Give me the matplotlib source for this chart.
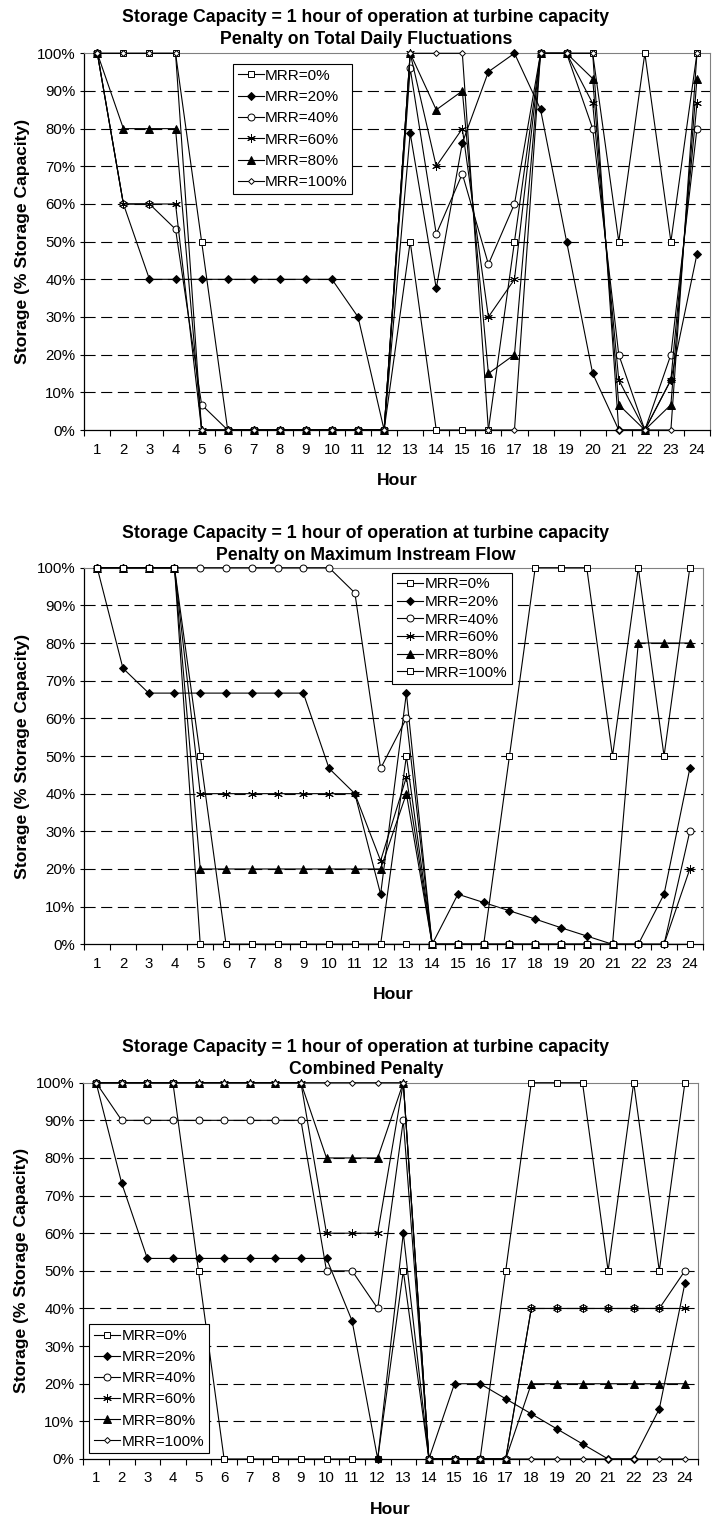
import matplotlib
matplotlib.use("Agg")
import matplotlib.pyplot as plt
import numpy as np

plt.rcParams['font.family'] = ['Liberation Sans', 'DejaVu Sans']
plt.rcParams['lines.scale_dashes'] = False

hours = list(range(1, 25))
labels = ["MRR=0%", "MRR=20%", "MRR=40%", "MRR=60%", "MRR=80%", "MRR=100%"]

# storage (% of capacity) for each minimum release requirement
fluct_0 = [100, 100, 100, 100, 50, 0, 0, 0, 0, 0, 0, 0, 50, 0, 0, 0, 50, 100, 100, 100, 50, 100, 50, 100]
fluct_20 = [100, 60, 40, 40, 40, 40, 40, 40, 40, 40, 30, 0, 78.8, 37.6, 76.2, 95.1, 100, 85.1, 50, 15, 0, 0, 13.3, 46.7]
fluct_40 = [100, 60, 60, 53.3, 6.7, 0, 0, 0, 0, 0, 0, 0, 96, 52, 68, 44, 60, 100, 100, 80, 20, 0, 20, 80]
fluct_60 = [100, 60, 60, 60, 0, 0, 0, 0, 0, 0, 0, 0, 100, 70, 80, 30, 40, 100, 100, 86.7, 13.3, 0, 13.3, 86.7]
fluct_80 = [100, 80, 80, 80, 0, 0, 0, 0, 0, 0, 0, 0, 100, 85, 90, 15, 20, 100, 100, 93.3, 6.7, 0, 6.7, 93.3]
fluct_100 = [100, 100, 100, 100, 0, 0, 0, 0, 0, 0, 0, 0, 100, 100, 100, 0, 0, 100, 100, 100, 0, 0, 0, 100]

inst_0 = [100, 100, 100, 100, 50, 0, 0, 0, 0, 0, 0, 0, 50, 0, 0, 0, 50, 100, 100, 100, 50, 100, 50, 100]
inst_20 = [100, 73.3, 66.7, 66.7, 66.7, 66.7, 66.7, 66.7, 66.7, 46.7, 40, 13.3, 66.7, 0, 13.3, 11.1, 8.9, 6.7, 4.4, 2.2, 0, 0, 13.3, 46.7]
inst_40 = [100, 100, 100, 100, 100, 100, 100, 100, 100, 100, 93.3, 46.7, 60, 0, 0, 0, 0, 0, 0, 0, 0, 0, 0, 30]
inst_60 = [100, 100, 100, 100, 40, 40, 40, 40, 40, 40, 40, 22.2, 44.4, 0, 0, 0, 0, 0, 0, 0, 0, 0, 0, 20]
inst_80 = [100, 100, 100, 100, 20, 20, 20, 20, 20, 20, 20, 20, 40, 0, 0, 0, 0, 0, 0, 0, 0, 80, 80, 80]
inst_100 = [100, 100, 100, 100, 0, 0, 0, 0, 0, 0, 0, 0, 0, 0, 0, 0, 0, 0, 0, 0, 0, 0, 0, 0]

comb_0 = [100, 100, 100, 100, 50, 0, 0, 0, 0, 0, 0, 0, 50, 0, 0, 0, 50, 100, 100, 100, 50, 100, 50, 100]
comb_20 = [100, 73.3, 53.3, 53.3, 53.3, 53.3, 53.3, 53.3, 53.3, 53.3, 36.7, 0, 60, 0, 20, 20, 16, 12, 8, 4, 0, 0, 13.3, 46.7]
comb_40 = [100, 90, 90, 90, 90, 90, 90, 90, 90, 50, 50, 40, 90, 0, 0, 0, 0, 40, 40, 40, 40, 40, 40, 50]
comb_60 = [100, 100, 100, 100, 100, 100, 100, 100, 100, 60, 60, 60, 100, 0, 0, 0, 0, 40, 40, 40, 40, 40, 40, 40]
comb_80 = [100, 100, 100, 100, 100, 100, 100, 100, 100, 80, 80, 80, 100, 0, 0, 0, 0, 20, 20, 20, 20, 20, 20, 20]
comb_100 = [100, 100, 100, 100, 100, 100, 100, 100, 100, 100, 100, 100, 100, 0, 0, 0, 0, 0, 0, 0, 0, 0, 0, 0]

title_top = "Storage Capacity = 1 hour of operation at turbine capacity"
subtitles = ["Penalty on Total Daily Fluctuations", "Penalty on Maximum Instream Flow", "Combined Penalty"]

# marker styles: (marker, size, filled)
sq = ('s', 4.4, False)
dia = ('D', 3.8, True)
circ = ('o', 5.0, False)
star = ((6, 2, 0), 6.2, False)
tri = ('^', 5.2, True)
small_dia = ('D', 3.0, False)

W, H = 718, 1521
fig = plt.figure(figsize=(W / 100, H / 100), dpi=100)


def px_axes(left, right, top, bottom):
    return fig.add_axes([left / W, (H - bottom) / H, (right - left) / W, (bottom - top) / H])


def draw_panel(ax, series, styles, subtitle, title_y, leg_loc, leg_anchor, leg_spacing):
    for y in range(10, 100, 10):
        ax.axhline(y, color='black', lw=0.8, ls=(0, (8, 4)), zorder=1)
    for vals, (mk, ms, filled), lab in zip(series, styles, labels):
        ax.plot(hours, vals, color='black', lw=0.8, marker=mk, ms=ms,
                mfc='black' if filled else 'white', mec='black', mew=0.7,
                label=lab, clip_on=False, zorder=3)
    ax.set_xlim(0.5, 24.5)
    ax.set_ylim(0, 100)
    ax.set_yticks(range(0, 101, 10))
    ax.set_yticklabels([f"{v}%" for v in range(0, 101, 10)], fontsize=10.8)
    ax.set_xticks(np.arange(0.5, 25, 1))
    ax.set_xticklabels([])
    ax.set_xticks(hours, minor=True)
    ax.set_xticklabels([str(h) for h in hours], minor=True, fontsize=10.8)
    ax.tick_params(axis='x', which='major', direction='out', length=4, width=0.8)
    ax.tick_params(axis='x', which='minor', length=0, pad=9)
    ax.tick_params(axis='y', direction='out', length=3, width=0.8, pad=3.5)
    for side in ('top', 'right'):
        ax.spines[side].set_color('#808080')
        ax.spines[side].set_linewidth(0.8)
    for side in ('left', 'bottom'):
        ax.spines[side].set_linewidth(0.9)
    ax.set_xlabel("Hour", fontsize=12.6, fontweight='bold', labelpad=12)
    ax.set_ylabel("Storage (% Storage Capacity)", fontsize=12.6, fontweight='bold', labelpad=5)
    leg = ax.legend(loc=leg_loc, bbox_to_anchor=leg_anchor, borderaxespad=0, fontsize=11,
                    handlelength=1.7, handletextpad=0.1, labelspacing=leg_spacing,
                    borderpad=0.3, fancybox=False, framealpha=1, edgecolor='black')
    leg.get_frame().set_linewidth(0.8)
    fig.text(366 / W, 1 - title_y / H, title_top, ha='center', va='center',
             fontsize=12.7, fontweight='bold')
    fig.text(366 / W, 1 - (title_y + 22) / H, subtitle, ha='center', va='center',
             fontsize=12.7, fontweight='bold')


ax1 = px_axes(84.3, 710, 53.3, 430)
draw_panel(ax1, [fluct_0, fluct_20, fluct_40, fluct_60, fluct_80, fluct_100],
           [sq, dia, circ, star, tri, small_dia], subtitles[0], 18,
           'upper left', (0.2377, 0.971), 0.48)

ax2 = px_axes(84.3, 702.7, 567.7, 944.3)
draw_panel(ax2, [inst_0, inst_20, inst_40, inst_60, inst_80, inst_100],
           [sq, dia, circ, star, tri, sq], subtitles[1], 533,
           'upper left', (0.498, 0.9865), 0.24)

ax3 = px_axes(83.3, 697.7, 1082.7, 1459)
draw_panel(ax3, [comb_0, comb_20, comb_40, comb_60, comb_80, comb_100],
           [sq, dia, circ, star, tri, small_dia], subtitles[2], 1047,
           'lower left', (0.0098, 0.015), 0.47)

fig.savefig("out.png", dpi=100)
